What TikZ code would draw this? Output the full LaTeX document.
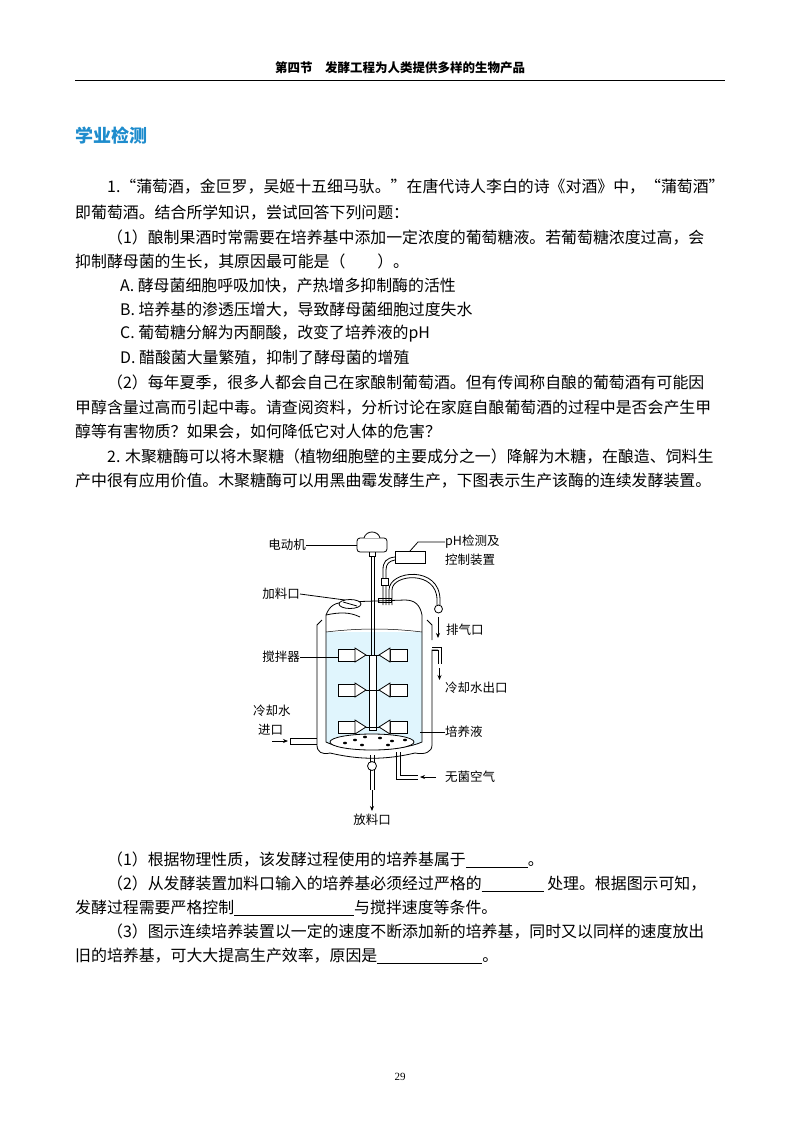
\documentclass[tikz,border=0pt]{standalone}
\usepackage{fontspec}
\setmainfont{Liberation Serif}
\newfontfamily\cjk{Noto Sans CJK SC}
\usetikzlibrary{arrows.meta}
\begin{document}
\begin{tikzpicture}[x=1pt,y=-1pt,
  txt/.style={anchor=west,inner sep=0pt,font=\cjk\fontsize{15.9}{16}\selectfont},
  lab/.style={anchor=west,inner sep=0pt,font=\cjk\fontsize{12.5}{13}\selectfont},
  ln/.style={line width=0.8pt},
  arr/.style={line width=0.8pt,-{Stealth[length=5pt,width=4pt]}}]
\useasboundingbox[fill=white] (0,0) rectangle (800,1138);
% header
\node[inner sep=0pt,font=\cjk\bfseries\fontsize{12.5}{13}\selectfont] (hd) at (400,68) {第四节\quad 发酵工程为人类提供多样的生物产品};
\draw[line width=0.6pt] (75,80) -- (725,80);
\node[anchor=west,inner sep=0pt,text={rgb,255:red,30;green,140;blue,205},font=\cjk\bfseries\fontsize{18}{19}\selectfont] (tt) at (75,136) {学业检测};
% text
\node[txt] (l1) at (107,187) {1.“蒲萄酒，金叵罗，吴姬十五细马驮。”在唐代诗人李白的诗《对酒》中，“蒲萄酒”};
\node[txt] (l2) at (75,213) {即葡萄酒。结合所学知识，尝试回答下列问题：};
\node[txt] (l3) at (107,238) {（1）酿制果酒时常需要在培养基中添加一定浓度的葡萄糖液。若葡萄糖浓度过高，会};
\node[txt] (l4) at (75,262) {抑制酵母菌的生长，其原因最可能是（\qquad）。};
\node[txt] (l5) at (120,286) {A. 酵母菌细胞呼吸加快，产热增多抑制酶的活性};
\node[txt] (l6) at (120,310) {B. 培养基的渗透压增大，导致酵母菌细胞过度失水};
\node[txt] (l7) at (120,334) {C. 葡萄糖分解为丙酮酸，改变了培养液的pH};
\node[txt] (l8) at (120,358) {D. 醋酸菌大量繁殖，抑制了酵母菌的增殖};
\node[txt] (l9) at (107,383) {（2）每年夏季，很多人都会自己在家酿制葡萄酒。但有传闻称自酿的葡萄酒有可能因};
\node[txt] (l10) at (75,408) {甲醇含量过高而引起中毒。请查阅资料，分析讨论在家庭自酿葡萄酒的过程中是否会产生甲};
\node[txt] (l11) at (75,432) {醇等有害物质？如果会，如何降低它对人体的危害？};
\node[txt] (l12) at (107,457) {2. 木聚糖酶可以将木聚糖（植物细胞壁的主要成分之一）降解为木糖，在酿造、饲料生};
\node[txt] (l13) at (75,481) {产中很有应用价值。木聚糖酶可以用黑曲霉发酵生产，下图表示生产该酶的连续发酵装置。};
\node[txt] (q1) at (107,860) {（1）根据物理性质，该发酵过程使用的培养基属于\underline{\hspace{62pt}}。};
\node[txt] (q2) at (107,884) {（2）从发酵装置加料口输入的培养基必须经过严格的\underline{\hspace{62pt}} 处理。根据图示可知，};
\node[txt] (q3) at (75,908) {发酵过程需要严格控制\underline{\hspace{120pt}}与搅拌速度等条件。};
\node[txt] (q4) at (107,932) {（3）图示连续培养装置以一定的速度不断添加新的培养基，同时又以同样的速度放出};
\node[txt] (q5) at (75,956) {旧的培养基，可大大提高生产效率，原因是\underline{\hspace{105pt}}。};
\node[inner sep=0pt,font=\fontsize{11}{12}\selectfont] (pg) at (400,1077) {29};
% ===== fermenter =====
% jacket
\draw[ln] (322,620) -- (317,625) -- (317,745) .. controls (317,752) and (322,755) .. (330,753)
  .. controls (360,760) and (385,760) .. (415,753) .. controls (425,755) and (432,752) .. (432,745)
  -- (432,650) -- (438,650);
\draw[ln] (432,640) -- (432,625) -- (427,620);
% vessel inner
\fill[cyan!12] (326,632) -- (422,632) -- (422,742) .. controls (400,752) and (345,752) .. (326,742) -- cycle;
\draw[ln] (326,615) -- (326,742) .. controls (345,752) and (400,752) .. (422,742) -- (422,615);
\draw[line width=0.5pt] (326,632) .. controls (360,628) and (390,628) .. (422,632);
% lid
\draw[ln] (326,615) .. controls (330,605) and (335,603) .. (345,602) -- (405,600) .. controls (415,600) and (420,605) .. (422,615);
\draw[ln] (326,615) .. controls (340,612) and (350,612) .. (360,617);
% feed port
\draw[ln,fill=white] (350,604) ellipse (11pt and 4.5pt);
\draw[ln] (343,602) -- (357,606);
% motor
\draw[ln,fill=white,rounded corners=3pt] (357,538) -- (357,552) -- (387,552) -- (387,538) -- cycle;
\draw[ln,fill=white] (364,538) .. controls (366,530) and (378,530) .. (380,538);
\draw[ln] (369,552) -- (369,556) -- (375,556) -- (375,552);
% shaft
\draw[ln] (371,556) -- (371,655); \draw[ln] (374,556) -- (374,655);
\draw[ln,fill=white] (369,655) rectangle (376,730);
% pH box
\draw[ln,fill=white] (395,551) rectangle (425,563);
\draw[ln] (395,557) .. controls (386,558) and (383,562) .. (383,570) -- (383,605);
\draw[ln] (395,560) .. controls (389,561) and (386,564) .. (386,570) -- (386,605);
\draw[ln,fill=white] (381,578) rectangle (388,585);
\draw[ln] (378,598) rectangle (391,602);
% exhaust
\draw[ln] (389,605) -- (389,590) .. controls (389,570) and (440,565) .. (440,600) -- (440,605);
\draw[ln] (392,605) -- (392,590) .. controls (392,574) and (437,570) .. (437,600) -- (437,605);
\draw[ln] (438.5,609) circle (4pt);
\draw[arr] (438,617) -- (438,638);
% cooling out
\draw[ln] (432,650) -- (438,650) -- (438,664); \draw[ln] (432,647) -- (441,647) -- (441,664);
\draw[arr] (439.5,668) -- (439.5,680);
% cooling in
\draw[ln] (290,738) -- (317,738); \draw[ln] (290,744) -- (317,744); \draw[ln] (290,738) -- (290,744);
\draw[arr] (272,741) -- (288,741);
% impellers
\foreach \y in {655,690,727}{
  \draw[ln,fill=white] (338,\y-6) rectangle (355,\y+6);
  \draw[ln,fill=white] (390,\y-6) rectangle (407,\y+6);
  \draw[ln,fill=white] (355,\y-7) -- (366,\y) -- (355,\y+7) -- cycle;
  \draw[ln,fill=white] (390,\y-7) -- (379,\y) -- (390,\y+7) -- cycle;
  \draw[ln] (366,\y) -- (379,\y);
}
% sparger
\draw[ln,fill=white] (372,742) ellipse (42pt and 8pt);
\foreach \a/\b in {355/740,365/737,380/738,392/741,362/745,388/745,405/740,345/743}{\fill (\a,\b) ellipse (2pt and 1.3pt);}
% bottom outlet
\draw[ln] (370,755) -- (370,762); \draw[ln] (374,755) -- (374,762);
\draw[ln,fill=white] (372,766) circle (4.5pt);
\draw[ln] (370,770) -- (370,790); \draw[ln] (374,770) -- (374,790);
\draw[arr] (372,790) -- (372,811);
% air
\draw[ln] (396,752) -- (396,779) -- (418,779); \draw[ln] (400,752) -- (400,775) -- (418,775);
\draw[arr] (436,777) -- (420,777);
% labels
\node[lab,anchor=east] (lm) at (306,545) {电动机}; \draw[ln] (lm.east) -- (357,545);
\node[lab] (lph1) at (445,542) {pH检测及}; \node[lab] (lph2) at (445,560) {控制装置};
\draw[ln] (410,551) -- (418,542) -- (lph1.west);
\node[lab,anchor=east] (lf) at (300,594) {加料口}; \draw[ln] (lf.east) -- (345,600);
\node[lab] (lex) at (446,630) {排气口};
\node[lab,anchor=east] (ls) at (300,657) {搅拌器}; \draw[ln] (ls.east) -- (338,657);
\node[lab] (lco) at (445,688) {冷却水出口};
\node[lab] (lci1) at (253,711) {冷却水}; \node[lab] (lci2) at (258,730) {进口};
\node[lab] (lmed) at (445,732) {培养液}; \draw[ln] (420,732) -- (lmed.west);
\node[lab] (lair) at (445,777) {无菌空气};
\node[lab,anchor=north] (lout) at (372,814) {放料口};
\end{tikzpicture}
\end{document}
